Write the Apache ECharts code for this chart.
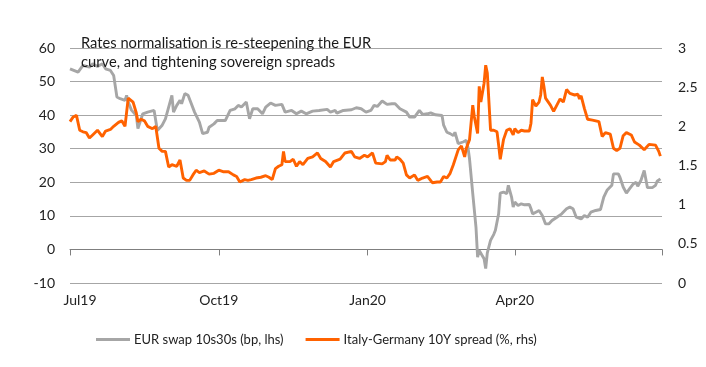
<!DOCTYPE html>
<html>
<head>
<meta charset="utf-8">
<script src="https://cdn.jsdelivr.net/npm/echarts@6/dist/echarts.min.js"></script>
<style>
html,body{margin:0;padding:0;background:#fff;}
#chart{width:706px;height:367px;}
</style>
</head>
<body>
<div id="chart"></div>
<script>
// ---- Data ----
const titleLines = ["Rates normalisation is re-steepening the EUR", "curve, and tightening sovereign spreads"];
const seriesNames = ["EUR swap 10s30s (bp, lhs)", "Italy-Germany 10Y spread (%, rhs)"];

const leftTicks = { min: -10, max: 60, interval: 10 };
const rightTicks = { min: 0, max: 3, interval: 0.5 };
const axisStart = "2019-07-01";
const axisEnd = "2020-07-01";
const tickDates = ["2019-07-01", "2019-10-01", "2020-01-01", "2020-04-01", "2020-07-01"];
const labelDates = ["2019-07-01", "2019-10-01", "2020-01-01", "2020-04-01"];

const swapDates = [
"2019-07-01","2019-07-06","2019-07-09","2019-07-13","2019-07-15","2019-07-18","2019-07-21","2019-07-23","2019-07-26","2019-07-28",
"2019-07-30","2019-08-01","2019-08-04","2019-08-05","2019-08-06","2019-08-08","2019-08-11","2019-08-12","2019-08-15","2019-08-18",
"2019-08-22","2019-08-24","2019-08-27","2019-08-29","2019-09-02","2019-09-03","2019-09-05","2019-09-07","2019-09-08","2019-09-10",
"2019-09-12","2019-09-16","2019-09-19","2019-09-21","2019-09-24","2019-09-25","2019-09-28","2019-09-30","2019-10-01","2019-10-05",
"2019-10-08","2019-10-11","2019-10-13","2019-10-15","2019-10-18","2019-10-20","2019-10-22","2019-10-25","2019-10-28","2019-10-30",
"2019-11-02","2019-11-05","2019-11-09","2019-11-11","2019-11-15","2019-11-18","2019-11-21","2019-11-24","2019-11-28","2019-12-02",
"2019-12-07","2019-12-09","2019-12-12","2019-12-13","2019-12-17","2019-12-22","2019-12-25","2019-12-28","2019-12-31","2020-01-03",
"2020-01-05","2020-01-07","2020-01-10","2020-01-13","2020-01-16","2020-01-18","2020-01-21","2020-01-25","2020-01-27","2020-01-30",
"2020-02-02","2020-02-04","2020-02-07","2020-02-09","2020-02-12","2020-02-16","2020-02-17","2020-02-19","2020-02-21","2020-02-23",
"2020-02-24","2020-02-26","2020-02-27","2020-02-29","2020-03-02","2020-03-03","2020-03-04","2020-03-06","2020-03-08","2020-03-09",
"2020-03-10","2020-03-11","2020-03-13","2020-03-14","2020-03-15","2020-03-17","2020-03-19","2020-03-20","2020-03-22","2020-03-23",
"2020-03-25","2020-03-27","2020-03-28","2020-03-30","2020-03-31","2020-04-01","2020-04-03","2020-04-05","2020-04-07","2020-04-10",
"2020-04-11","2020-04-12","2020-04-14","2020-04-16","2020-04-18","2020-04-20","2020-04-22","2020-04-24","2020-04-27","2020-04-30",
"2020-05-03","2020-05-05","2020-05-07","2020-05-09","2020-05-12","2020-05-14","2020-05-16","2020-05-18","2020-05-21","2020-05-24",
"2020-05-26","2020-05-28","2020-05-31","2020-06-01","2020-06-04","2020-06-05","2020-06-07","2020-06-09","2020-06-11","2020-06-13",
"2020-06-15","2020-06-16","2020-06-18","2020-06-20","2020-06-22","2020-06-25","2020-06-27","2020-06-28","2020-06-29","2020-06-30"
];
const swapValues = [
53.8,52.8,54.8,54.3,55.3,54.5,55.3,53.8,53.3,51.8,
45.4,44.9,44.4,45.9,43.9,41.5,39.9,36.0,40.4,40.9,
41.4,35.4,37.0,38.9,45.9,40.9,42.9,44.4,43.4,46.4,
45.9,40.9,37.9,34.5,34.9,36.4,37.4,38.4,38.4,38.4,
41.4,41.9,42.9,42.4,43.9,38.9,41.9,41.9,40.4,42.4,
43.6,42.9,43.2,40.9,41.4,40.4,41.2,40.4,41.2,41.4,
41.7,40.9,41.4,40.6,41.4,41.6,42.2,41.9,40.9,41.4,
42.9,42.6,44.2,43.2,43.4,43.4,41.9,40.9,39.4,39.4,
41.4,40.2,40.4,40.7,40.1,39.9,37.0,34.9,34.5,33.9,
34.9,31.5,31.0,32.0,32.5,30.5,27.0,16.6,6.6,-2.3,
-0.3,-0.8,-2.8,-5.7,-1.0,2.7,4.5,5.7,10.6,16.8,
17.1,16.6,19.1,15.6,12.6,14.1,13.1,13.6,13.3,13.4,
12.1,10.6,11.1,11.6,10.1,7.6,7.6,8.6,9.6,10.6,
12.1,12.6,12.1,9.6,9.1,10.1,9.6,11.1,11.6,11.9,
15.6,17.6,19.1,22.5,22.5,21.5,18.6,16.8,18.1,19.4,
20.0,18.8,20.6,23.5,18.4,18.4,19.1,20.3,20.0,21.0
];

const spreadDates = [
"2019-07-01","2019-07-03","2019-07-05","2019-07-07","2019-07-09","2019-07-11","2019-07-13","2019-07-15","2019-07-18","2019-07-19",
"2019-07-21","2019-07-23","2019-07-26","2019-07-28","2019-07-31","2019-08-02","2019-08-04","2019-08-06","2019-08-07","2019-08-09",
"2019-08-11","2019-08-12","2019-08-14","2019-08-16","2019-08-18","2019-08-21","2019-08-23","2019-08-25","2019-08-27","2019-08-29",
"2019-08-31","2019-09-02","2019-09-05","2019-09-07","2019-09-09","2019-09-11","2019-09-13","2019-09-15","2019-09-17","2019-09-19",
"2019-09-22","2019-09-25","2019-09-28","2019-10-01","2019-10-04","2019-10-07","2019-10-10","2019-10-12","2019-10-14","2019-10-17",
"2019-10-19","2019-10-21","2019-10-24","2019-10-27","2019-10-30","2019-11-01","2019-11-03","2019-11-05","2019-11-07","2019-11-09",
"2019-11-10","2019-11-11","2019-11-14","2019-11-16","2019-11-18","2019-11-20","2019-11-22","2019-11-25","2019-11-28","2019-12-01",
"2019-12-03","2019-12-06","2019-12-09","2019-12-11","2019-12-15","2019-12-18","2019-12-22","2019-12-24","2019-12-27","2019-12-28",
"2019-12-30","2020-01-01","2020-01-04","2020-01-06","2020-01-10","2020-01-12","2020-01-13","2020-01-15","2020-01-18","2020-01-19",
"2020-01-21","2020-01-23","2020-01-25","2020-01-27","2020-01-30","2020-02-01","2020-02-04","2020-02-07","2020-02-10","2020-02-13",
"2020-02-15","2020-02-17","2020-02-19","2020-02-21","2020-02-23","2020-02-24","2020-02-26","2020-02-28","2020-03-01","2020-03-02",
"2020-03-04","2020-03-06","2020-03-07","2020-03-09","2020-03-10","2020-03-11","2020-03-13","2020-03-14","2020-03-15","2020-03-17",
"2020-03-19","2020-03-21","2020-03-22","2020-03-23","2020-03-25","2020-03-27","2020-03-29","2020-03-31","2020-04-01","2020-04-03",
"2020-04-05","2020-04-07","2020-04-10","2020-04-11","2020-04-12","2020-04-14","2020-04-16","2020-04-17","2020-04-18","2020-04-19",
"2020-04-20","2020-04-23","2020-04-25","2020-04-27","2020-04-29","2020-05-01","2020-05-03","2020-05-05","2020-05-08","2020-05-10",
"2020-05-11","2020-05-12","2020-05-14","2020-05-16","2020-05-19","2020-05-23","2020-05-25","2020-05-27","2020-05-30","2020-06-01",
"2020-06-03","2020-06-05","2020-06-07","2020-06-09","2020-06-12","2020-06-14","2020-06-17","2020-06-20","2020-06-21","2020-06-23",
"2020-06-27","2020-06-29","2020-06-30"
];
const spreadValues = [
2.06,2.12,2.14,1.95,1.93,1.92,1.85,1.89,1.95,1.97,
1.87,1.94,1.96,2.00,2.05,2.07,2.00,2.36,2.34,2.31,
2.17,2.06,2.09,2.07,2.00,1.97,2.00,1.72,1.68,1.68,
1.48,1.51,1.49,1.57,1.34,1.31,1.31,1.38,1.44,1.41,
1.43,1.39,1.40,1.44,1.42,1.42,1.38,1.36,1.29,1.32,
1.31,1.32,1.34,1.35,1.37,1.35,1.32,1.46,1.49,1.51,
1.68,1.55,1.55,1.58,1.49,1.55,1.51,1.59,1.61,1.66,
1.59,1.55,1.48,1.55,1.58,1.66,1.68,1.61,1.59,1.59,
1.63,1.61,1.66,1.53,1.52,1.55,1.63,1.57,1.57,1.61,
1.58,1.53,1.38,1.34,1.38,1.31,1.34,1.36,1.28,1.29,
1.29,1.36,1.34,1.40,1.51,1.49,1.70,1.75,1.61,1.72,
1.83,2.27,2.12,1.91,2.51,2.31,2.55,2.78,2.68,1.95,
1.95,1.93,1.76,1.58,1.83,1.95,1.97,1.89,1.97,1.92,
1.95,1.94,1.94,2.04,2.34,2.26,2.31,2.40,2.63,2.51,
2.36,2.27,2.19,2.27,2.35,2.31,2.47,2.42,2.40,2.41,
2.35,2.39,2.23,2.09,2.08,2.06,1.87,1.92,1.90,1.72,
1.69,1.72,1.88,1.92,1.89,1.80,1.76,1.70,1.68,1.77,
1.76,1.68,1.62
];

// ---- Helpers ----
const monthNames = ["Jan","Feb","Mar","Apr","May","Jun","Jul","Aug","Sep","Oct","Nov","Dec"];
function ts(s){ const p = s.split("-").map(Number); return Date.UTC(p[0], p[1]-1, p[2]); }
function fmtDate(v){ const d = new Date(v); return monthNames[d.getUTCMonth()] + String(d.getUTCFullYear()).slice(2); }
function pairs(ds, vs){ return ds.map((d,i)=>[ts(d), vs[i]]); }

const FONT = "Lato";
const chart = echarts.init(document.getElementById("chart"), null, {renderer:"canvas"});
chart.setOption({
  animation:false,
  backgroundColor:"#ffffff",
  textStyle:{fontFamily:FONT},
  title:{
    text: titleLines.join("\n"),
    left: 76, top: 29,
    textStyle:{fontFamily:FONT, fontSize:14.7, fontWeight:"normal", color:"#1a1a1a", lineHeight:19}
  },
  legend:{
    left: 91, top: 328,
    itemWidth: 34, itemHeight: 3, itemGap: 22,
    textStyle:{fontFamily:FONT, fontSize:13, color:"#222", padding:[0,0,0,-1]},
    data: seriesNames.map(n=>({name:n, icon:"rect"}))
  },
  grid:{left:70, right:44, top:48, bottom:84, containLabel:false},
  xAxis:[{
    type:"value", min: ts(axisStart), max: ts(axisEnd),
    axisLine:{show:true, onZero:true, lineStyle:{color:"#7f7f7f", width:1}},
    axisTick:{show:true, length:6, lineStyle:{color:"#7f7f7f"}, customValues: tickDates.map(ts)},
    axisLabel:{show:false},
    splitLine:{show:false}
  },{
    type:"value", min: ts(axisStart), max: ts(axisEnd), position:"bottom",
    axisLine:{show:false, onZero:false},
    axisTick:{show:false},
    splitLine:{show:false},
    axisLabel:{
      show:true, margin:10, fontFamily:FONT, fontSize:14, color:"#222",
      customValues: labelDates.map(ts),
      formatter: function(v){ const s = fmtDate(v); return v === ts(axisStart) ? "{p|" + s + "}" : s; },
      rich:{p:{fontFamily:FONT, fontSize:14, color:"#222", padding:[0,0,0,20]}}
    }
  }],
  yAxis:[{
    type:"value", position:"left", min:leftTicks.min, max:leftTicks.max, interval:leftTicks.interval,
    axisLine:{show:false}, axisTick:{show:false},
    axisLabel:{margin:15, fontFamily:FONT, fontSize:14, color:"#222"},
    splitLine:{show:true, lineStyle:{color:"#a6a6a6", width:1}}
  },{
    type:"value", position:"right", min:rightTicks.min, max:rightTicks.max, interval:rightTicks.interval,
    axisLine:{show:false}, axisTick:{show:false},
    axisLabel:{margin:16, fontFamily:FONT, fontSize:14, color:"#222"},
    splitLine:{show:false}
  }],
  series:[{
    name: seriesNames[0], type:"line", xAxisIndex:0, yAxisIndex:0,
    data: pairs(swapDates, swapValues),
    symbol:"none", lineStyle:{color:"#a6a6a6", width:2.9}, itemStyle:{color:"#a6a6a6"}
  },{
    name: seriesNames[1], type:"line", xAxisIndex:0, yAxisIndex:1,
    data: pairs(spreadDates, spreadValues),
    symbol:"none", lineStyle:{color:"#ff6200", width:2.9}, itemStyle:{color:"#ff6200"}
  }]
});
</script>
</body>
</html>
